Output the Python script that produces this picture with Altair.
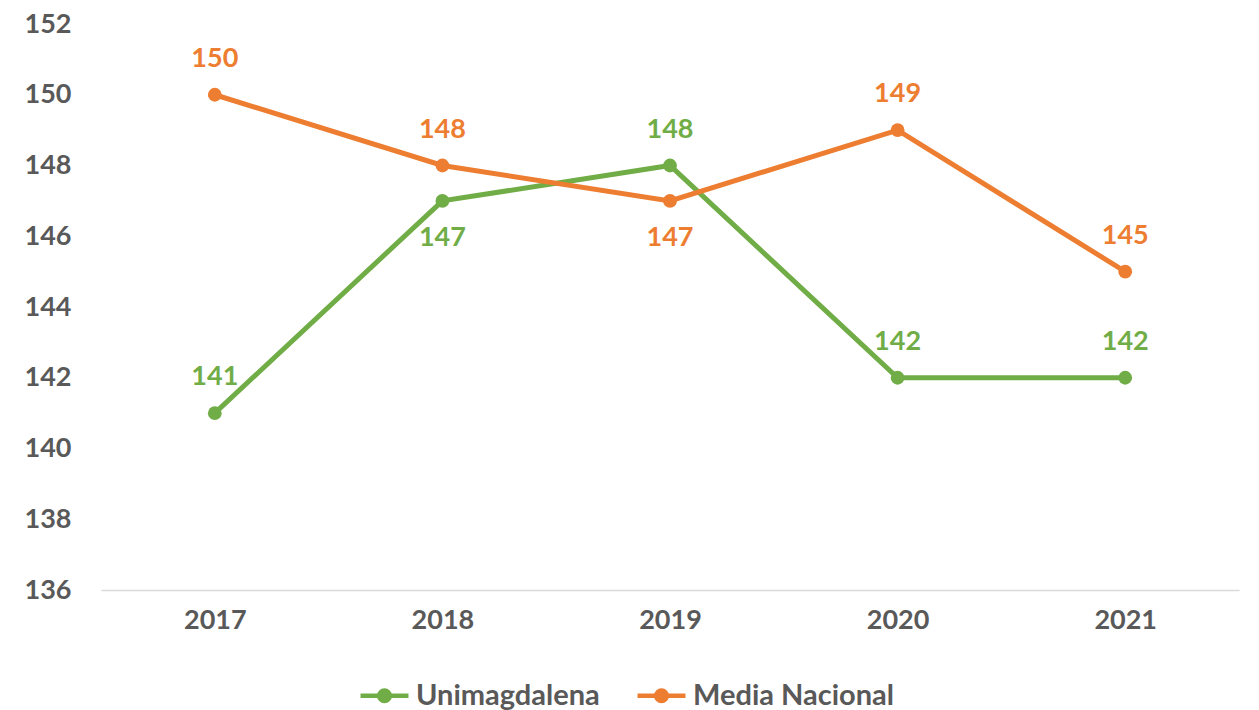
import altair as alt
import pandas as pd

years = ["2017", "2018", "2019", "2020", "2021"]
unimagdalena = [141, 147, 148, 142, 142]
media_nacional = [150, 148, 147, 149, 145]
uni_label_pos = ["above", "below", "above", "above", "above"]
med_label_pos = ["above", "above", "below", "above", "above"]
series_names = ["Unimagdalena", "Media Nacional"]
series_colors = ["#70AD47", "#ED7D31"]
y_ticks = [136, 138, 140, 142, 144, 146, 148, 150, 152]

rows = []
for y, v, p in zip(years, unimagdalena, uni_label_pos):
    rows.append({"year": y, "value": v, "series": series_names[0], "pos": p})
for y, v, p in zip(years, media_nacional, med_label_pos):
    rows.append({"year": y, "value": v, "series": series_names[1], "pos": p})
df = pd.DataFrame(rows)

FONT = "Lato"
GRAY = "#595959"

x_enc = alt.X("year:N", sort=years, title=None,
              scale=alt.Scale(paddingOuter=0.5, paddingInner=0),
              axis=alt.Axis(labelAngle=0, labelFont=FONT, labelFontSize=27,
                            labelFontWeight="bold", labelColor=GRAY, ticks=False,
                            domainColor="#D9D9D9", domainWidth=1.5, labelPadding=17))
y_enc = alt.Y("value:Q", title=None,
              scale=alt.Scale(domain=[136, 152], nice=False, zero=False),
              axis=alt.Axis(values=y_ticks, grid=False, domain=False, ticks=False,
                            labelFont=FONT, labelFontSize=27, labelFontWeight="bold",
                            labelColor=GRAY, labelPadding=30))
color_enc = alt.Color("series:N", sort=series_names,
                      scale=alt.Scale(domain=series_names, range=series_colors),
                      legend=alt.Legend(title=None, orient="none", direction="horizontal",
                                        legendX=257, legendY=645,
                                        symbolType="M-1,0L-0.22,0M0.22,0L1,0M-0.22,0A0.22,0.22 0 1,1 0.22,0A0.22,0.22 0 1,1 -0.22,0Z",
                                        symbolSize=2300, symbolStrokeWidth=4.5,
                                        labelFont=FONT, labelFontSize=29, labelFontWeight="bold",
                                        labelColor=GRAY, labelLimit=400,
                                        columnPadding=28, labelOffset=5))

base = alt.Chart(df)
lines = base.mark_line(strokeWidth=5).encode(x=x_enc, y=y_enc, color=color_enc)
points = base.mark_point(filled=True, size=190, opacity=1).encode(x=x_enc, y=y_enc, color=color_enc)
text_color = alt.Color("series:N", scale=alt.Scale(domain=series_names, range=series_colors), legend=None)
text_above = base.transform_filter(alt.datum.pos == "above").mark_text(
    dy=-36, font=FONT, fontSize=27, fontWeight="bold").encode(
    x=x_enc, y=y_enc, text="value:Q", color=text_color)
text_below = base.transform_filter(alt.datum.pos == "below").mark_text(
    dy=37, font=FONT, fontSize=27, fontWeight="bold").encode(
    x=x_enc, y=y_enc, text="value:Q", color=text_color)

chart = alt.layer(lines, points, text_above, text_below).properties(
    width=1138, height=566,
    autosize=alt.AutoSizeParams(type="none"),
    padding={"left": 101, "top": 24, "right": 20, "bottom": 120},
    background="white",
).configure_view(stroke=None)

chart.save("out.html", embed_options={"renderer": "svg", "actions": False})
